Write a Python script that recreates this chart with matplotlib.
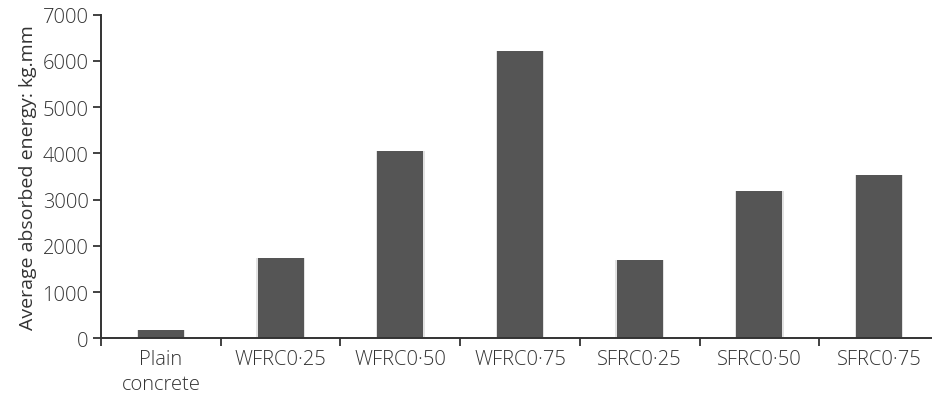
import numpy as np
import matplotlib.pyplot as plt

# Data
mixes = ['Plain\nconcrete', 'WFRC0·25', 'WFRC0·50', 'WFRC0·75',
         'SFRC0·25', 'SFRC0·50', 'SFRC0·75']
energy = [190, 1730, 4060, 6210, 1700, 3180, 3540]

plt.rcParams['font.family'] = ['Open Sans', 'DejaVu Sans']
plt.rcParams['font.weight'] = 'light'
txt = '#333333'

fig = plt.figure(figsize=(9.32, 4.02), dpi=100)
ax = fig.add_axes([0.1084, 0.156, 0.8991, 0.805])

x = np.arange(len(mixes))
# soft shadow behind bars
ax.bar(x, energy, width=0.405, color='#e2e2e2', zorder=1)
ax.bar(x, energy, width=0.385, color='#555555', zorder=2)

ax.set_xlim(-0.5, len(mixes) - 0.5)
ax.set_ylim(0, 7000)
ax.set_yticks(range(0, 7001, 1000))

ax.set_xticks(x)
ax.set_xticklabels(mixes, fontsize=14.5, color=txt, linespacing=1.3)
ax.tick_params(axis='x', which='major', length=0, pad=8)
ax.set_xticks(np.arange(-0.5, len(mixes), 1), minor=True)
ax.tick_params(axis='x', which='minor', length=6, width=1.3, color=txt, direction='out')
ax.tick_params(axis='y', length=6, width=1.3, color=txt, labelsize=14.5,
               labelcolor=txt, pad=3)

for s in ['top', 'right']:
    ax.spines[s].set_visible(False)
for s in ['left', 'bottom']:
    ax.spines[s].set_color(txt)
    ax.spines[s].set_linewidth(1.4)

ax.set_ylabel('Average absorbed energy: kg.mm', fontsize=14, color=txt, labelpad=4)

fig.savefig('out.png', dpi=100)
